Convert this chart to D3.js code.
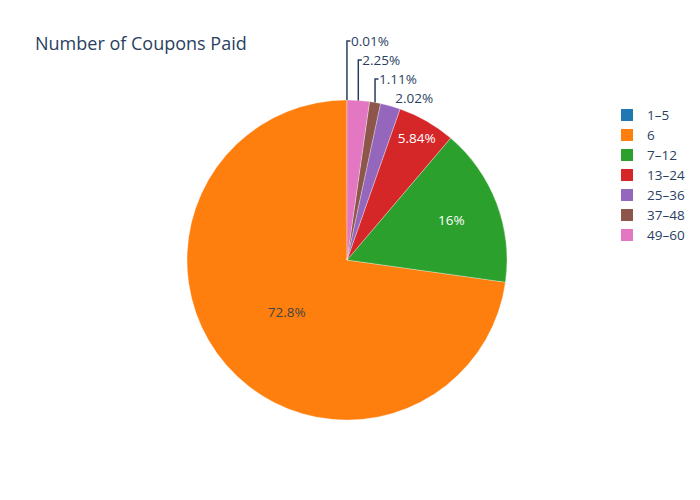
<html>
<head>
    <title>Number of Coupons Paid</title>
    <script src="https://d3js.org/d3.v7.min.js" charset="utf-8"></script>
    <style>
        body { margin: 0; background: #fff; }
        text { font-family: "Open Sans", sans-serif; }
    </style>
</head>
<body>
<script>

    // data
    const categories = ["1–5", "6", "7–12", "13–24", "25–36", "37–48", "49–60"];
    const shares = [0.01, 72.8, 16, 5.84, 2.02, 1.11, 2.25];
    const labels = ["0.01%", "72.8%", "16%", "5.84%", "2.02%", "1.11%", "2.25%"];
    const colours = ["#1f77b4", "#ff7f0e", "#2ca02c", "#d62728", "#9467bd", "#8c564b", "#e377c2"];

    const width = 700;
    const height = 500;
    const cx = 347, cy = 260, r = 160;
    const textColour = "#2a3f5f";
    const fs = "13.5px";

    const svg = d3.select("body").append("svg")
        .attr("width", width)
        .attr("height", height);

    svg.append("text")
        .attr("x", 35)
        .attr("y", 50)
        .attr("fill", textColour)
        .style("font-size", "18px")
        .text("Number of Coupons Paid");

    const colour = d3.scaleOrdinal().domain(categories).range(colours);

    // counterclockwise from 12 o'clock, in the given order
    const pie = d3.pie()
        .sort(null)
        .startAngle(0)
        .endAngle(-2 * Math.PI)
        .value(d => d.v);

    const rows = categories.map((c, i) => ({ c: c, v: shares[i], label: labels[i] }));
    const arcs = pie(rows);

    const arc = d3.arc().innerRadius(0).outerRadius(r);

    const g = svg.append("g").attr("transform", `translate(${cx},${cy})`);

    g.selectAll("path")
        .data(arcs)
        .enter()
        .append("path")
        .attr("d", arc)
        .attr("fill", d => colour(d.data.c))
        .attr("stroke", "#fff")
        .attr("stroke-width", 0.3);

    // inside labels: fit a horizontal box into the wedge (close to plotly's way)
    const inside = arcs.filter(d => d.data.v >= 5);
    const outside = arcs.filter(d => d.data.v < 5);

    inside.forEach(d => {
        const mid = (d.startAngle + d.endAngle) / 2;
        const half = Math.abs(d.endAngle - d.startAngle) / 2;
        const t = g.append("text")
            .attr("text-anchor", "middle")
            .attr("dy", "0.35em")
            .style("font-size", fs)
            .attr("fill", d.data.c === "6" ? "#444" : "#fff")
            .text(d.data.label);
        let rc = r / 2;
        if (half < Math.PI / 2) {
            const w = t.node().getComputedTextLength() / 2;
            const h = 9;
            const radial = w * Math.abs(Math.sin(mid)) + h * Math.abs(Math.cos(mid));
            const tang = w * Math.abs(Math.cos(mid)) + h * Math.abs(Math.sin(mid));
            const k = tang / radial;
            const kt = k / Math.tan(half);
            const dd = r / Math.sqrt((2 + kt) * (2 + kt) + k * k);
            rc = dd * (1 + kt);
        }
        t.attr("x", rc * Math.sin(mid)).attr("y", -rc * Math.cos(mid));
    });

    // outside labels, from the right-most one upwards, with leader lines
    outside.sort((a, b) => Math.sin((b.startAngle + b.endAngle) / 2) - Math.sin((a.startAngle + a.endAngle) / 2));
    let prevY = Infinity;
    outside.forEach(d => {
        const mid = (d.startAngle + d.endAngle) / 2;
        const ex = r * Math.sin(mid);
        const ey = -r * Math.cos(mid);
        const natural = ey - 8;
        let ty = Math.min(natural, prevY - 19);
        let tx = ex + 5;
        if (ty < natural - 1) {
            g.append("path")
                .attr("d", `M${ex},${ey}V${ty}H${ex + 3.5}`)
                .attr("fill", "none")
                .attr("stroke", textColour)
                .attr("stroke-width", 1.5);
            tx = ex + 4;
        }
        g.append("text")
            .attr("x", tx)
            .attr("y", ty)
            .attr("dy", "0.35em")
            .attr("fill", textColour)
            .style("font-size", fs)
            .text(d.data.label);
        prevY = ty;
    });

    // legend
    const legend = svg.append("g").attr("transform", "translate(621,115)");
    const item = legend.selectAll("g")
        .data(categories)
        .enter()
        .append("g")
        .attr("transform", (d, i) => `translate(0,${i * 20})`);

    item.append("rect")
        .attr("x", 0)
        .attr("y", -6)
        .attr("width", 12)
        .attr("height", 12)
        .attr("fill", d => colour(d));

    item.append("text")
        .attr("x", 26)
        .attr("dy", "0.35em")
        .attr("fill", textColour)
        .style("font-size", fs)
        .text(d => d);

</script>
</body>
</html>
